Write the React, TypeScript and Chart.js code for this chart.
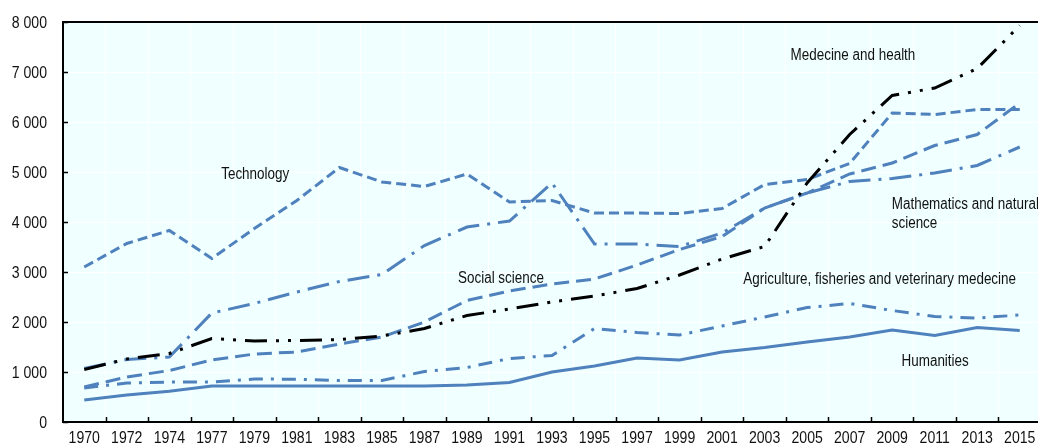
import React, { useEffect, useRef } from "react";
import { Chart, registerables } from "chart.js";

Chart.register(...registerables);

const years = ["1970","1972","1974","1977","1979","1981","1983","1985","1987","1989","1991","1993","1995","1997","1999","2001","2003","2005","2007","2009","2011","2013","2015"];

const medicine = [1050, 1260, 1370, 1670, 1620, 1630, 1650, 1720, 1870, 2130, 2260, 2400, 2520, 2670, 2940, 3260, 3510, 4780, 5750, 6530, 6680, 7070, 7930];
const technology = [3100, 3570, 3830, 3270, 3870, 4430, 5090, 4800, 4710, 4960, 4400, 4430, 4180, 4180, 4170, 4270, 4750, 4850, 5170, 6180, 6150, 6250, 6250];
const mathematics = [1070, 1250, 1300, 2180, 2370, 2600, 2810, 2950, 3530, 3900, 4020, 4780, 3560, 3560, 3510, 3780, 4280, 4580, 4810, 4870, 4980, 5130, 5500];
const socialScience = [700, 900, 1030, 1240, 1360, 1400, 1560, 1700, 2000, 2430, 2620, 2760, 2860, 3140, 3450, 3710, 4280, 4580, 4960, 5180, 5530, 5750, 6380];
const agriculture = [680, 780, 800, 800, 860, 855, 830, 830, 1010, 1090, 1270, 1330, 1870, 1790, 1740, 1920, 2100, 2290, 2370, 2230, 2110, 2080, 2140];
const humanities = [440, 540, 615, 720, 720, 720, 720, 720, 720, 740, 790, 1000, 1120, 1280, 1240, 1400, 1490, 1600, 1700, 1840, 1730, 1890, 1830];

const yTicks = [0, 1000, 2000, 3000, 4000, 5000, 6000, 7000, 8000];

// annotation anchors (left edge in category units, baseline in data units)
const annotationTexts = [
  { lines: ["Technology"], at: 3.22, value: 4868 },
  { lines: ["Medecine and health"], at: 16.61, value: 7234 },
  { lines: ["Mathematics and natural", "science"], at: 18.99, value: 4270 },
  { lines: ["Social science"], at: 8.79, value: 2788 },
  { lines: ["Agriculture, fisheries and veterinary medecine"], at: 15.5, value: 2768 },
  { lines: ["Humanities"], at: 19.22, value: 1120 },
];

const BLUE = "#4F81BD";
const FONT = "'Liberation Sans', Arial, sans-serif";
const TEXT_COLOR = "#111";

const fmt = (v: number) => String(v).replace(/\B(?=(\d{3})+(?!\d))/g, " ");

function drawText(ctx: CanvasRenderingContext2D, text: string, x: number, y: number, align: CanvasTextAlign, size: number, sx: number) {
  ctx.save();
  ctx.font = `${size}px ${FONT}`;
  ctx.fillStyle = TEXT_COLOR;
  ctx.textAlign = align;
  ctx.textBaseline = "alphabetic";
  ctx.translate(x, y);
  ctx.scale(sx, 1);
  ctx.fillText(text, 0, 0);
  ctx.restore();
}

const decor = {
  id: "decor",
  beforeDraw(chart: any) {
    const { ctx, chartArea } = chart;
    const { left, top, right, bottom } = chartArea;
    ctx.save();
    ctx.fillStyle = "#F0FFFF";
    ctx.fillRect(left, top, right - left, bottom - top);
    ctx.restore();
  },
  afterDraw(chart: any) {
    const { ctx, chartArea, scales } = chart;
    const { left, top, right, bottom } = chartArea;
    const xs = scales.x;
    const ys = scales.y;
    ctx.save();
    ctx.strokeStyle = "#000";
    ctx.lineWidth = 2;
    ctx.beginPath();
    ctx.moveTo(left - 1, top);
    ctx.lineTo(right, top);
    ctx.stroke();
    ctx.lineWidth = 1.5;
    ctx.beginPath();
    yTicks.forEach((v) => {
      const py = Math.round(ys.getPixelForValue(v)) + 0.5;
      ctx.moveTo(left, py);
      ctx.lineTo(left + 5, py);
    });
    for (let i = 1; i < years.length; i++) {
      const px = Math.round((xs.getPixelForValue(i - 1) + xs.getPixelForValue(i)) / 2) + 0.5;
      ctx.moveTo(px, bottom);
      ctx.lineTo(px, bottom - 5);
    }
    ctx.stroke();
    ctx.restore();

    // axis labels
    yTicks.forEach((v) => {
      const py = ys.getPixelForValue(v);
      drawText(ctx, fmt(v), left - 16, py + 6, "right", 16.4, 0.86);
    });
    years.forEach((y, i) => {
      const px = xs.getPixelForValue(i);
      drawText(ctx, y, px, bottom + 21, "center", 16.4, 0.86);
    });

    // annotations
    annotationTexts.forEach((a) => {
      const px = xs.getPixelForValue(a.at);
      const py = ys.getPixelForValue(a.value);
      a.lines.forEach((ln, k) => {
        drawText(ctx, ln, px, py + k * 19.5, "left", 16, 0.84);
      });
    });
  },
};

export default function App() {
  const ref = useRef<HTMLCanvasElement | null>(null);
  useEffect(() => {
    if (!ref.current) return;
    const common = { pointRadius: 0, pointHoverRadius: 0, tension: 0, borderWidth: 3, fill: false, borderCapStyle: "butt" as const };
    const chart = new Chart(ref.current, {
      type: "line",
      data: {
        labels: years,
        datasets: [
          { label: "Medecine and health", data: medicine, borderColor: "#000", borderDash: [22, 9, 3, 9, 3, 9], ...common },
          { label: "Technology", data: technology, borderColor: BLUE, borderDash: [10, 5], ...common },
          { label: "Mathematics and natural science", data: mathematics, borderColor: BLUE, borderDash: [22, 8, 3, 8], ...common },
          { label: "Social science", data: socialScience, borderColor: BLUE, borderDash: [15, 7], ...common },
          { label: "Agriculture, fisheries and veterinary medecine", data: agriculture, borderColor: BLUE, borderDash: [14, 8, 3, 8], ...common },
          { label: "Humanities", data: humanities, borderColor: BLUE, borderDash: [], ...common },
        ],
      },
      options: {
        responsive: false,
        animation: false,
        events: [],
        layout: { padding: { left: 0, top: 22, right: 0, bottom: 0 } },
        plugins: { legend: { display: false }, tooltip: { enabled: false } },
        scales: {
          x: {
            type: "category",
            offset: true,
            grid: { offset: true, color: "#ffffff", lineWidth: 1, drawTicks: false },
            border: { display: true, color: "#000", width: 2 },
            ticks: { display: false, autoSkip: false },
            afterFit: (s: any) => { s.height = 24; },
          },
          y: {
            min: 0,
            max: 8000,
            grid: { color: "#ffffff", lineWidth: 1, drawTicks: false },
            border: { display: true, color: "#000", width: 2 },
            ticks: { display: false, stepSize: 1000 },
            afterFit: (s: any) => { s.width = 63; },
          },
        },
      },
      plugins: [decor],
    });
    return () => chart.destroy();
  }, []);
  return (
    <div style={{ position: "fixed", left: 0, top: 0, width: 1038, height: 446, overflow: "hidden", background: "#fff" }}>
      <canvas ref={ref} width={1041} height={446} style={{ width: 1041, height: 446, display: "block" }} />
    </div>
  );
}
